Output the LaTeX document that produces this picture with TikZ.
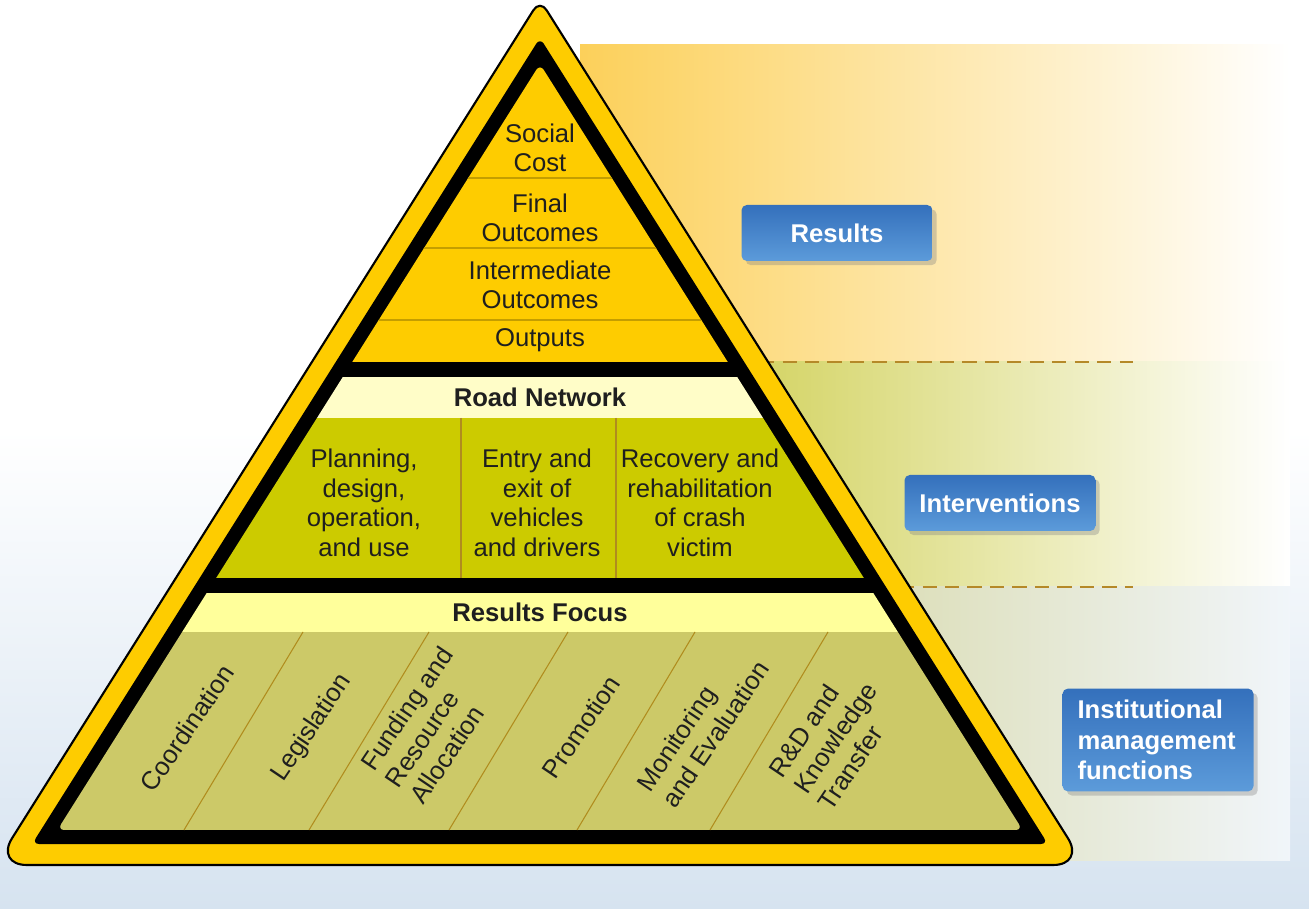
\documentclass[tikz,border=0pt]{standalone}
\usepackage{fontspec}
\setmainfont{Liberation Sans}
\usepackage{tikz}
\usetikzlibrary{shadows}
\definecolor{signyel}{RGB}{254,204,0}
\definecolor{creamband}{RGB}{255,253,200}
\definecolor{focusband}{RGB}{255,255,155}
\definecolor{olivefill}{RGB}{204,203,0}
\definecolor{khakifill}{RGB}{204,201,104}
\definecolor{goldline}{RGB}{196,158,0}
\definecolor{brownline}{RGB}{176,140,30}
\definecolor{dashbrown}{RGB}{181,137,40}
\definecolor{bgblue}{RGB}{214,227,240}
\definecolor{resbg}{RGB}{252,208,90}
\definecolor{intbg}{RGB}{198,198,50}
\definecolor{insbg}{RGB}{205,205,135}
\definecolor{tagtop}{RGB}{52,112,188}
\definecolor{tagbot}{RGB}{92,155,218}
\tikzstyle{lbl} = [inner sep=0pt, align=center, text=black!88,
font=\fontsize{7.3}{8.4}\selectfont]
\tikzstyle{head} = [lbl, font=\fontsize{7.3}{8.4}\selectfont\bfseries]
\tikzstyle{func} = [lbl, align=left, rotate=56]
\tikzstyle{tag} = [rectangle, rounded corners=1.5pt, top color=tagtop, bottom color=tagbot,
minimum width=19.1mm, minimum height=5.6mm, text=white,
font=\fontsize{7.3}{8.6}\selectfont\bfseries,
drop shadow={opacity=0.35, shadow xshift=1.2pt, shadow yshift=-1.2pt}]
\tikzstyle{dashline} = [dashbrown, line width=0.65pt, dash pattern=on 4pt off 2.4pt]

\begin{document}
\begin{tikzpicture}[x=0.1mm, y=-0.1mm]
  \useasboundingbox (0,0) rectangle (1309,909);
  % background and bands
  \fill[white] (0,0) rectangle (1309,909);
  \shade[top color=white, bottom color=bgblue] (0,430) rectangle (1309,909);
  \shade[left color=resbg, middle color=resbg!40!white, right color=white] (580,45) rectangle (1290,362);
  \shade[left color=intbg, middle color=intbg!42!white, right color=white] (580,362) rectangle (1290,587);
  \shade[left color=insbg, middle color=insbg!40!white, right color=bgblue!35!white] (580,587) rectangle (1290,860);
  \draw[dashline] (760,362) -- (1133,362);
  \draw[dashline] (900,587) -- (1133,587);
  % the sign
  \filldraw[fill=signyel, draw=black, line width=0.6pt, rounded corners=9pt]
    (540,865) -- (1084.8,865) [rounded corners=3.5pt] -- (540,-0.3) [rounded corners=9pt] -- (-4.8,865) -- cycle;
  \fill[black, rounded corners=2pt] (540,37.8) -- (1047.9,844) -- (32.1,844) -- cycle;
  \begin{scope}
    \clip[rounded corners=2pt] (540,64) -- (1022.6,830) -- (57.4,830) -- cycle;
    \fill[signyel] (0,0) rectangle (1309,362);
    \fill[creamband] (0,377) rectangle (1309,418);
    \fill[olivefill] (0,418) rectangle (1309,578);
    \fill[focusband] (0,593) rectangle (1309,632);
    \fill[khakifill] (0,632) rectangle (1309,830);
    \foreach \y in {178,248,320}
      \draw[goldline, line width=0.3pt] (0,\y) -- (1309,\y);
    \foreach \x in {461,616}
      \draw[brownline, line width=0.3pt] (\x,418) -- (\x,578);
    \foreach \xb/\xt in {184/303,309/429,449/568,577/695,710/828}
      \draw[brownline, line width=0.3pt] (\xb,830) -- (\xt,632);
  \end{scope}
  % results
  \node (social) [lbl] at (540,148) {Social\\Cost};
  \node (final) [lbl] at (540,218) {Final\\Outcomes};
  \node (inter) [lbl] at (540,285) {Intermediate\\Outcomes};
  \node (outputs) [lbl] at (540,340) {Outputs};
  % interventions
  \node (road) [head] at (540,397) {Road Network};
  \node (plan) [lbl] at (364,503) {Planning,\\design,\\operation,\\and use};
  \node (entry) [lbl] at (537,503) {Entry and\\exit of\\vehicles\\and drivers};
  \node (recov) [lbl] at (700,503) {Recovery and\\rehabilitation\\of crash\\victim};
  % institutional functions
  \node (focus) [head] at (540,612) {Results Focus};
  \node (coord) [func] at (187,728) {Coordination};
  \node (legis) [func] at (312,728) {Legislation};
  \node (fund) [func] at (431,725) {Funding and\\Resource\\Allocation};
  \node (promo) [func] at (581,727) {Promotion};
  \node (monit) [func] at (703,726) {Monitoring\\and Evaluation};
  \node (rnd) [func] at (835,738) {R\&D and\\Knowledge\\Transfer};
  % tags
  \node (results) [tag] at (837,233) {Results};
  \node (interv) [tag] at (1000,503) {Interventions};
  \node (instit) [tag, minimum height=10.1mm, align=left, text width=16.1mm, inner xsep=1.5mm]
    at (1158,740) {Institutional\\management\\functions};
\end{tikzpicture}
\end{document}
